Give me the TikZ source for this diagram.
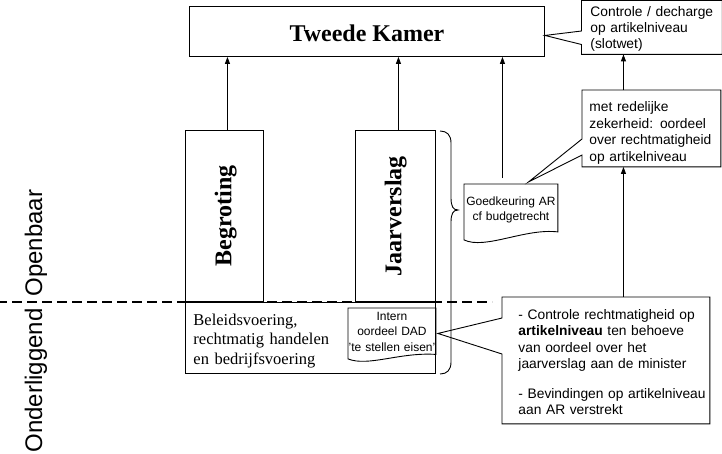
\documentclass[tikz,border=0pt]{standalone}
\usepackage{fontspec}
\setmainfont{Liberation Serif}
\setsansfont{Liberation Sans}
\usetikzlibrary{arrows.meta,calc}
\begin{document}
\begin{tikzpicture}[x=1pt,y=-1pt,line width=0.9pt,
  arr/.style={-{Triangle[length=7pt,width=5pt]}},
  box/.style={draw,rectangle,inner sep=0pt},
  plain/.style={inner sep=0pt},
  callout/.style={inner sep=0pt,align=left,font=\sffamily\fontsize{13.8}{16.3}\selectfont},
  doc/.style={inner sep=0pt,align=center,font=\sffamily\fontsize{12}{15.5}\selectfont},
  bigtitle/.style={font=\bfseries\fontsize{24}{28}\selectfont},
  side/.style={inner sep=0pt,font=\sffamily\fontsize{24}{28}\selectfont},
  divider/.style={line width=2pt,dash pattern=on 10pt off 5pt,dash phase=3pt}]
\fill[white] (0,0) rectangle (722,453);
\useasboundingbox (0,0) rectangle (722,453);

% Tweede Kamer
\node[box,bigtitle,anchor=north west,minimum width=355pt,text height=35pt,text depth=15pt] (tk) at (189,6) {Tweede Kamer};

% Begroting / Jaarverslag
\node[box,bigtitle,rotate=90,anchor=north west,minimum width=171pt,text height=46pt,text depth=32pt] (beg) at (185,302) {Begroting};
\node[box,bigtitle,rotate=90,anchor=north west,minimum width=171pt,text height=46pt,text depth=34pt] (jaar) at (355,302) {Jaarverslag};

% lower box
\node[box,anchor=north west,minimum width=250pt,minimum height=71pt] (low) at (185,302) {};
\node[plain,anchor=base west,text width=150pt,align=left,font=\fontsize{16.5}{19.5}\selectfont] (bel) at (193,325) {Beleidsvoering,\\rechtmatig handelen\\en bedrijfsvoering};

% Intern document
\node[doc,anchor=north west,text width=87pt,text height=12pt,text depth=34pt] (intern) at (348,308) {Intern\\oordeel DAD\\'te stellen eisen'};
\draw (intern.north west) -- (intern.north east) -- ([yshift=0.5pt]intern.south east)
  .. controls (400,352) and (368,367) .. ([yshift=-4pt]intern.south west) -- cycle;

% Goedkeuring document
\node[doc,anchor=north west,text width=93pt,text height=21pt,text depth=29pt,font=\sffamily\fontsize{12}{15}\selectfont] (goed) at (464,184) {Goedkeuring AR\\cf budgetrecht};
\draw (goed.north west) -- (goed.north east) -- ([yshift=3pt]goed.south east)
  .. controls (525,228) and (485,250) .. ([yshift=-5pt]goed.south west) -- cycle;

% brace
\draw (440,131) .. controls (447,131) and (451,135) .. (451,143) -- (451,198)
  .. controls (451,206) and (453,210) .. (458,210)
  .. controls (453,210) and (451,214) .. (451,222) -- (451,362)
  .. controls (451,370) and (447,374) .. (440,374);

% callout: Controle / decharge
\node[callout,anchor=north west,text width=140pt,text height=16pt,text depth=37pt,font=\sffamily\fontsize{13.8}{16}\selectfont] (ctrl) at (581.5,0.5) {\leftskip=8.5pt Controle / decharge\\op artikelniveau\\(slotwet)\par};
\draw (ctrl.north west) -- (ctrl.north east) -- (ctrl.south east) -- (ctrl.south west)
  -- ([yshift=-44pt]ctrl.north west) -- ([yshift=-4pt]tk.east) -- ([yshift=-30.5pt]ctrl.north west) -- cycle;

% callout: met redelijke zekerheid
\node[callout,anchor=north west,text width=138pt,text height=21pt,text depth=55pt,font=\sffamily\fontsize{13.8}{16.6}\selectfont] (mr) at (582,90) {\leftskip=7pt met redelijke\\zekerheid: oordeel\\over rechtmatigheid\\op artikelniveau\par};
\draw (mr.north west) -- (mr.north east) -- (mr.south east) -- (mr.south west)
  -- ([yshift=-65pt]mr.north west) -- ([xshift=17.5pt,yshift=2pt]goed.north) -- ([yshift=-49pt]mr.north west) -- cycle;

% callout: bottom right
\node[callout,anchor=north west,text width=207pt,text height=22pt,text depth=104pt] (br) at (502,297) {\leftskip=16pt - Controle rechtmatigheid op\\\textbf{artikelniveau} ten behoeve\\van oordeel over het\\jaarverslag aan de minister\\[13.7pt]- Bevindingen op artikelniveau\\aan AR verstrekt\par};
\draw (br.north west) -- (br.north east) -- (br.south east) -- (br.south west)
  -- ([yshift=-57pt]br.north west) -- ([xshift=2pt,yshift=-2pt]intern.east) -- ([yshift=-21pt]br.north west) -- cycle;

% arrows
\draw[arr] ([xshift=3pt]beg.east) -- ([xshift=3pt]beg.east |- tk.south);
\draw[arr] ([xshift=3pt]jaar.east) -- ([xshift=3pt]jaar.east |- tk.south);
\draw[arr] ([xshift=-8.5pt,yshift=6pt]goed.north) -- ([xshift=-8.5pt]goed.north |- tk.south);
\draw[arr] ([xshift=-28pt]mr.north) -- ([xshift=-28pt]mr.north |- ctrl.south);
\draw[arr] ([xshift=17.5pt]br.north) -- ([xshift=17.5pt]br.north |- mr.south);

% dashed divider
\coordinate (dl) at (0,302);
\coordinate (dr) at (492,302);
\draw[divider] (dl) -- (dr);

% side labels
\node[side,rotate=90,anchor=base west] (onder) at (42,453) {Onderliggend};
\node[side,rotate=90,anchor=base west] (open) at (42,297) {Openbaar};
\end{tikzpicture}
\end{document}
